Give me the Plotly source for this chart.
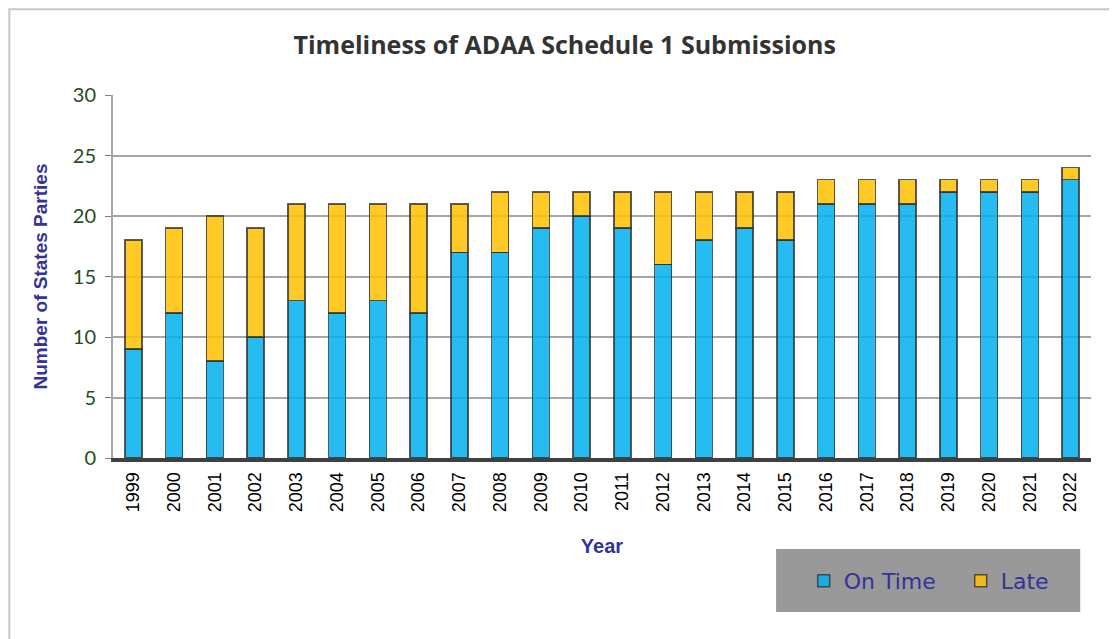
import plotly.graph_objects as go

years = [str(y) for y in range(1999, 2023)]
on_time = [9, 12, 8, 10, 13, 12, 13, 12, 17, 17, 19, 20, 19, 16, 18, 19, 18, 21, 21, 21, 22, 22, 22, 23]
late = [9, 7, 12, 9, 8, 9, 8, 9, 4, 5, 3, 2, 3, 6, 4, 3, 4, 2, 2, 2, 1, 1, 1, 1]

fig = go.Figure()
fig.add_trace(go.Bar(x=years, y=on_time, name="On Time",
                     marker=dict(color="rgba(0,176,240,0.85)", line=dict(color="rgba(50,50,50,0.8)", width=1.5))))
fig.add_trace(go.Bar(x=years, y=late, name="Late",
                     marker=dict(color="rgba(255,192,0,0.85)", line=dict(color="rgba(50,50,50,0.8)", width=1.5))))

fig.update_layout(
    barmode="stack", bargap=0.58,
    width=1109, height=631, autosize=False,
    margin=dict(l=105, r=26, t=87, b=181),
    plot_bgcolor="white", paper_bgcolor="white",
    title=dict(text="<b>Timeliness of ADAA Schedule 1 Submissions</b>", x=0.502, xanchor="center",
               y=0.941, yanchor="middle", font=dict(family="Open Sans, Lato, sans-serif", size=25, color="#333333")),
    legend=dict(orientation="h", xref="container", yref="container", x=0.7175, y=0.092,
                xanchor="left", yanchor="middle",
                bgcolor="rgba(0,0,0,0)", font=dict(family="DejaVu Sans, Verdana", size=22, color="#333399"),
                itemwidth=30, entrywidth=112, traceorder="normal"),
)
fig.update_xaxes(
    type="category", tickangle=-90, showgrid=False, automargin=False,
    tickfont=dict(family="Liberation Sans, Arial", size=18, color="black"),
    showline=True, linecolor="#404040", linewidth=4, ticks="", ticklabelstandoff=3,
    title=dict(text="<b>Year</b>", standoff=29, font=dict(family="Liberation Sans, Arial", size=20, color="#333399")),
)
fig.update_yaxes(
    range=[0, 30], dtick=5, showgrid=True, gridcolor="#A6A6A6", gridwidth=1.5, automargin=False,
    showline=True, linecolor="#A6A6A6", linewidth=2, ticks="outside", ticklen=6, tickcolor="#808080",
    ticklabelstandoff=5,
    tickfont=dict(family="Lato, Open Sans, sans-serif", size=20, color="#1E4D1E"),
    zeroline=False,
    title=dict(text="<b>Number of States Parties</b>", standoff=20, font=dict(family="Liberation Sans, Arial", size=19, color="#333399")),
)
# outer chart frame
fig.add_shape(type="rect", xref="paper", yref="paper", x0=-0.106, x1=1.05, y0=-0.6, y1=1.236,
              line=dict(color="#C8C8C8", width=2), fillcolor="rgba(0,0,0,0)", layer="below")
# grey legend box
fig.add_shape(type="rect", xref="paper", yref="paper", x0=0.678, x1=0.989, y0=-0.424, y1=-0.251,
              line=dict(width=0), fillcolor="#999999", layer="below")

fig.write_html("out.html")
